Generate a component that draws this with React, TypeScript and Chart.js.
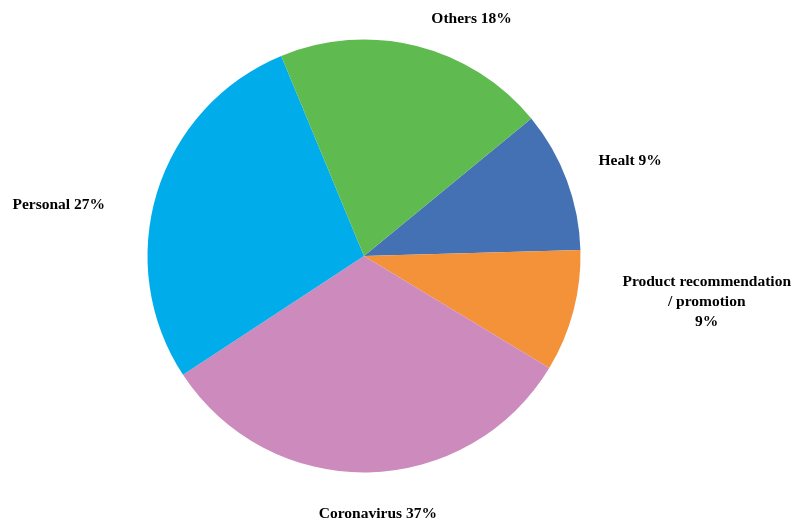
import React, { useEffect, useRef } from "react";
import { Chart, registerables } from "chart.js";

Chart.register(...registerables);

const categories = ["Healt", "Product recommendation / promotion", "Coronavirus", "Personal", "Others"];
const values = [10.5, 9.1, 32.1, 28.0, 20.3];
const labelLines = [
  ["Healt 9%"],
  ["Product recommendation", "/ promotion", "9%"],
  ["Coronavirus 37%"],
  ["Personal 27%"],
  ["Others 18%"],
];
const colors = ["#4371B4", "#F4923A", "#CC8ABD", "#00ADEA", "#5FBA4F"];

// label placement relative to pie centre, in units of radius
const labelOffsets = [
  [1.229, -0.439],
  [1.583, 0.211],
  [0.064, 1.193],
  [-1.41, -0.236],
  [0.497, -1.095],
];

const labelPlugin = {
  id: "outsideLabels",
  afterDatasetsDraw(chart: any) {
    const meta = chart.getDatasetMeta(0);
    const ctx = chart.ctx;
    ctx.save();
    ctx.fillStyle = "#000";
    ctx.font = "bold 15.5px 'Liberation Serif', 'Times New Roman', serif";
    ctx.textAlign = "center";
    ctx.textBaseline = "middle";
    meta.data.forEach((arc: any, i: number) => {
      const { x, y, outerRadius } = arc.getProps(["x", "y", "outerRadius"], true);
      const [ox, oy] = labelOffsets[i];
      const cx = x + ox * outerRadius;
      const cy = y + oy * outerRadius;
      const lines = labelLines[i];
      const lh = 20;
      lines.forEach((t, j) => {
        ctx.fillText(t, cx, cy + (j - (lines.length - 1) / 2) * lh);
      });
    });
    ctx.restore();
  },
};

export default function App() {
  const ref = useRef<HTMLCanvasElement>(null);
  useEffect(() => {
    if (!ref.current) return;
    const chart = new Chart(ref.current, {
      type: "pie",
      data: {
        labels: categories,
        datasets: [
          {
            data: values,
            backgroundColor: colors,
            borderWidth: 0,
          },
        ],
      },
      options: {
        responsive: false,
        animation: false,
        rotation: 50.6,
        layout: { padding: { left: 147.5, right: 212.5, top: 39.5, bottom: 48.5 } },
        plugins: { legend: { display: false }, tooltip: { enabled: false } },
      },
      plugins: [labelPlugin],
    });
    return () => chart.destroy();
  }, []);
  return (
    <div style={{ position: "fixed", left: 0, top: 0, width: 793, height: 521, background: "#fff" }}>
      <canvas ref={ref} width={793} height={521} />
    </div>
  );
}
